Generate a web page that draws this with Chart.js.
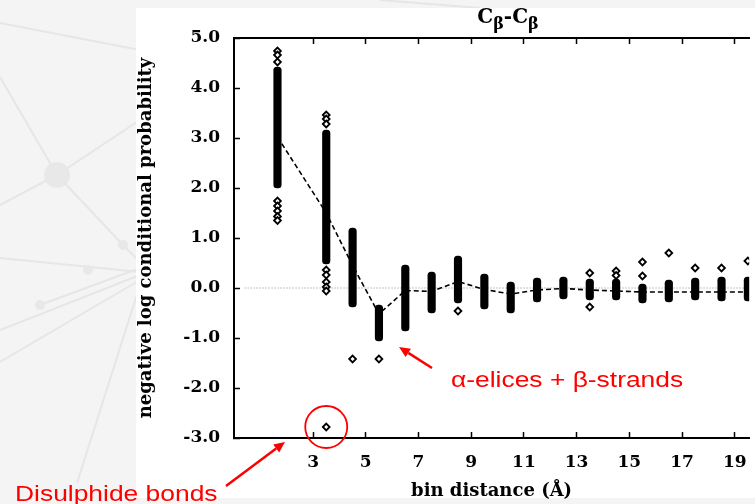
<!DOCTYPE html>
<html>
<head>
<meta charset="utf-8">
<script src="https://cdn.jsdelivr.net/npm/chart.js@4.4.1/dist/chart.umd.min.js"></script>
<style>
  html, body { margin: 0; padding: 0; }
  body { width: 755px; height: 504px; overflow: hidden; background: #f4f4f4; position: relative; }
  #bg { position: absolute; left: 0; top: 0; }
  #panel { position: absolute; left: 136px; top: 8px; width: 619px; height: 490px; background: #fff; }
  #wrap { position: absolute; left: 0; top: 0; width: 755px; height: 504px; }
</style>
</head>
<body>
<svg id="bg" width="755" height="504">
  <g stroke="#e6e6e6" stroke-width="2" fill="none">
    <line x1="0" y1="23" x2="140" y2="50"/>
    <line x1="0" y1="77" x2="57" y2="175"/>
    <line x1="57" y1="175" x2="140" y2="120"/>
    <line x1="57" y1="175" x2="0" y2="205"/>
    <line x1="57" y1="175" x2="123" y2="245"/>
    <line x1="123" y1="245" x2="140" y2="262"/>
    <line x1="0" y1="258" x2="140" y2="272"/>
    <line x1="0" y1="330" x2="140" y2="275"/>
    <line x1="0" y1="362" x2="140" y2="280"/>
    <line x1="40" y1="305" x2="140" y2="268"/>
    <line x1="77" y1="483" x2="140" y2="285"/>
    <line x1="380" y1="0" x2="480" y2="8"/>
  </g>
  <g fill="#e8e8e8">
    <circle cx="57" cy="175" r="13"/>
    <circle cx="123" cy="245" r="5"/>
    <circle cx="88" cy="270" r="5"/>
    <circle cx="40" cy="305" r="5"/>
  </g>
</svg>
<div id="panel"></div>
<div id="wrap"><canvas id="chart"></canvas></div>
<script>
// bin centres (Å) and the dense stacks of points in each bin
const bins = [1.65, 3.5, 4.5, 5.5, 6.5, 7.5, 8.5, 9.5, 10.5, 11.5, 12.5, 13.5, 14.5, 15.5, 16.5, 17.5, 18.5, 19.5];
const denseLow = [2.0, 0.48, -0.38, -1.06, -0.86, -0.5, -0.3, -0.42, -0.5, -0.28, -0.22, -0.24, -0.24, -0.3, -0.28, -0.24, -0.26, -0.26];
const denseHigh = [4.42, 3.16, 1.2, -0.34, 0.46, 0.32, 0.64, 0.28, 0.12, 0.2, 0.22, 0.18, 0.18, 0.08, 0.16, 0.2, 0.22, 0.22];
const meanValues = [3.02, 1.5, 0.45, -0.52, -0.05, -0.07, 0.13, -0.03, -0.12, -0.04, -0.01, -0.04, -0.06, -0.08, -0.08, -0.08, -0.08, -0.08];

// isolated points
const outlierBins = [1.65, 1.65, 1.65, 1.65, 1.65, 1.65, 1.65, 1.65, 3.5, 3.5, 3.5, 3.5, 3.5, 3.5, 3.5, 3.5, 3.5, 4.5, 5.5, 8.5, 13.5, 13.5, 14.5, 14.5, 15.5, 15.5, 16.5, 17.5, 18.5, 19.5];
const outlierValues = [4.74, 4.66, 4.52, 1.74, 1.64, 1.54, 1.43, 1.35, 3.46, 3.38, 3.28, 0.36, 0.26, 0.12, 0.02, -0.06, -2.78, -1.42, -1.42, -0.46, 0.3, -0.38, 0.34, 0.25, 0.52, 0.24, 0.7, 0.4, 0.4, 0.54];

const xTickValues = [3, 5, 7, 9, 11, 13, 15, 17, 19];
const yTickValues = [-3, -2, -1, 0, 1, 2, 3, 4, 5];

const RED = '#ff0000';
const serif = 'DejaVu Serif';
const tickFont = { family: serif, weight: 'bold', size: 17 };

function arrow(ctx, x1, y1, x2, y2) {
  const a = Math.atan2(y2 - y1, x2 - x1);
  const len = 11, half = 5;
  const bx = x2 - Math.cos(a) * len, by = y2 - Math.sin(a) * len;
  ctx.beginPath();
  ctx.moveTo(x1, y1);
  ctx.lineTo(bx, by);
  ctx.stroke();
  ctx.beginPath();
  ctx.moveTo(x2, y2);
  ctx.lineTo(bx + Math.sin(a) * half, by - Math.cos(a) * half);
  ctx.lineTo(bx - Math.sin(a) * half, by + Math.cos(a) * half);
  ctx.closePath();
  ctx.fill();
}

function redText(ctx, text, x, y) {
  ctx.save();
  ctx.translate(x, y);
  ctx.scale(1.2, 1);
  ctx.font = '22px "Liberation Sans", Arial, sans-serif';
  ctx.fillStyle = RED;
  ctx.textBaseline = 'alphabetic';
  ctx.fillText(text, 0, 0);
  ctx.restore();
}

function drawTitle(ctx) {
  // C-beta with subscript beta
  const parts = [['C', 20, 0], ['β', 16, 6], ['-', 20, 0], ['C', 20, 0], ['β', 16, 6]];
  let total = 0;
  parts.forEach(p => {
    ctx.font = 'bold ' + p[1] + 'px "' + serif + '"';
    p.push(ctx.measureText(p[0]).width);
    total += p[3];
  });
  let px = 508 - total / 2;
  ctx.fillStyle = '#000';
  ctx.textBaseline = 'alphabetic';
  parts.forEach(p => {
    ctx.font = 'bold ' + p[1] + 'px "' + serif + '"';
    ctx.fillText(p[0], px, 23 + p[2]);
    px += p[3];
  });
}

const annotations = {
  id: 'annotations',
  beforeDatasetsDraw(chart) {
    const { ctx, chartArea, scales: { x, y } } = chart;
    const y0 = y.getPixelForValue(0);
    ctx.save();
    ctx.strokeStyle = '#8a8a8a';
    ctx.lineWidth = 1;
    ctx.setLineDash([1, 2]);
    ctx.beginPath();
    ctx.moveTo(x.getPixelForValue(0.4), y0);
    ctx.lineTo(chartArea.right, y0);
    ctx.stroke();
    ctx.restore();
  },
  afterDraw(chart) {
    const { ctx, scales: { x, y } } = chart;
    ctx.save();
    drawTitle(ctx);
    ctx.strokeStyle = RED;
    ctx.fillStyle = RED;
    ctx.lineWidth = 1.8;
    // circle round the disulphide point
    ctx.beginPath();
    ctx.arc(x.getPixelForValue(3.5), y.getPixelForValue(-2.78), 21, 0, Math.PI * 2);
    ctx.stroke();
    ctx.lineWidth = 2.5;
    arrow(ctx, 432, 368, 399, 347);
    arrow(ctx, 226, 486, 285, 442);
    ctx.restore();
    redText(ctx, 'α-elices + β-strands', 451, 387);
    redText(ctx, 'Disulphide bonds', 15, 501);
  }
};

const xAxisCommon = {
  type: 'linear', min: 0, max: 19.55, offset: false,
  afterBuildTicks: s => { s.ticks = xTickValues.map(v => ({ value: v })); },
  grid: { drawOnChartArea: false, offset: false, tickLength: -6, tickWidth: 1.5, tickColor: '#000' },
  border: { color: '#000', width: 2 }
};

new Chart(document.getElementById('chart'), {
  type: 'scatter',
  data: {
    datasets: [
      {
        type: 'scatter',
        data: outlierBins.map((b, i) => ({ x: b, y: outlierValues[i] })),
        pointStyle: 'rectRot',
        pointRadius: 3.4,
        borderWidth: 1.8,
        borderColor: '#000',
        backgroundColor: '#fff'
      },
      {
        type: 'bar',
        data: bins.map((b, i) => ({ x: b, y: [denseLow[i], denseHigh[i]] })),
        backgroundColor: '#000',
        borderWidth: 0,
        borderSkipped: false,
        borderRadius: 3.5,
        barThickness: 7.5
      },
      {
        type: 'line',
        data: bins.map((b, i) => ({ x: b, y: meanValues[i] })),
        borderColor: '#000',
        borderWidth: 1.6,
        borderDash: [5, 3],
        pointRadius: 0,
        tension: 0,
        fill: false
      }
    ]
  },
  options: {
    responsive: true,
    maintainAspectRatio: false,
    animation: false,
    events: [],
    layout: { padding: { left: 130, top: 0, right: 0, bottom: 0 } },
    plugins: { legend: { display: false }, tooltip: { enabled: false }, title: { display: false } },
    scales: {
      x: Object.assign({}, xAxisCommon, {
        position: 'bottom',
        afterFit: s => { s.height = 66; s.paddingLeft = 0; s.paddingRight = 0; },
        ticks: { autoSkip: false, maxRotation: 0, padding: 20, color: '#000', font: tickFont, callback: v => String(v) },
        title: { display: true, text: 'bin distance (Å)', color: '#000', font: { family: serif, weight: 'bold', size: 18 }, padding: { top: 0, bottom: 2 } }
      }),
      x2: Object.assign({}, xAxisCommon, {
        position: 'top',
        afterFit: s => { s.height = 38; s.paddingLeft = 0; s.paddingRight = 0; },
        ticks: { display: false }
      }),
      y: {
        type: 'linear', position: 'left', min: -3, max: 5,
        afterBuildTicks: s => { s.ticks = yTickValues.map(v => ({ value: v })); },
        afterFit: s => { s.width = 104; s.paddingTop = 0; s.paddingBottom = 0; },
        grid: { drawOnChartArea: false, tickLength: -6, tickWidth: 1.5, tickColor: '#000' },
        border: { color: '#000', width: 2 },
        ticks: { padding: 20, color: '#000', font: tickFont, callback: v => v.toFixed(1) },
        title: { display: true, text: 'negative log conditional probability', color: '#000', font: { family: serif, weight: 'bold', size: 18 }, padding: { top: 6, bottom: 0 } }
      }
    }
  },
  plugins: [annotations]
});
</script>
</body>
</html>
